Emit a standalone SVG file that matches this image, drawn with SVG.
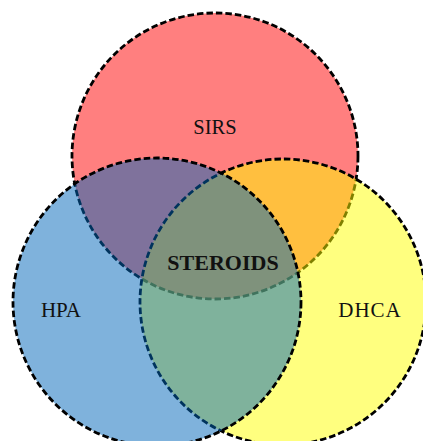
<svg xmlns="http://www.w3.org/2000/svg" width="423" height="441" viewBox="0 0 423 441">
<style>
.c{stroke:#000;stroke-width:2.8;stroke-dasharray:6.5 3;fill-opacity:0.5}
.t{font-family:"Liberation Serif","Times New Roman",serif;fill:#111}
</style>
<rect width="423" height="441" fill="#fff"/>
<g id="sirs">
<circle class="c" cx="215" cy="156" r="143" fill="#ff0000"/>
</g>
<g id="dhca">
<circle class="c" cx="283" cy="302" r="143" fill="#ffff00"/>
</g>
<g id="hpa">
<circle class="c" cx="157" cy="302" r="144" fill="#0066b9"/>
</g>
<g id="connectors"></g>
<g id="labels">
<text class="t" x="215" y="134" font-size="20.5" text-anchor="middle">SIRS</text>
<text class="t" x="61" y="317" font-size="21" text-anchor="middle">HPA</text>
<text class="t" x="370" y="317" font-size="21" text-anchor="middle" letter-spacing="1">DHCA</text>
<text class="t" x="223" y="270" font-size="22" font-weight="bold" text-anchor="middle">STEROIDS</text>
</g>
</svg>
